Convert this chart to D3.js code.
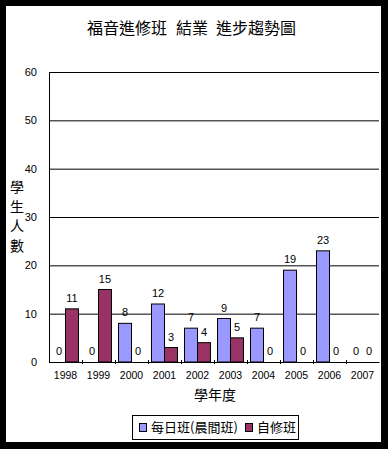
<!DOCTYPE html>
<html>
<head>
<meta charset="utf-8">
<script src="https://cdn.jsdelivr.net/npm/d3@7"></script>
<style>
  body { margin: 0; background: #000; }
  svg { display: block; }
  text { font-family: "Noto Sans CJK TC", "Liberation Sans", sans-serif; fill: #000; }
  .num { font-family: "Liberation Sans", Arial, sans-serif; }
</style>
</head>
<body>
<div id="chart"></div>
<script>
// chart data
let years = ["1998", "1999", "2000", "2001", "2002", "2003", "2004", "2005", "2006", "2007"];
let seriesNames = ["每日班(晨間班)", "自修班"];
let morningClass = [0, 0, 8, 12, 7, 9, 7, 19, 23, 0];
let selfStudy = [11, 15, 0, 3, 4, 5, 0, 0, 0, 0];
let yTicks = [0, 10, 20, 30, 40, 50, 60];
let colors = ["#9999FF", "#993366"];

let svgWidth = 388;
let svgHeight = 449;

// plot area inside the frame
let plot = { left: 49, right: 379, top: 72, bottom: 362 };

let svg = d3.select("#chart")
    .append("svg")
    .attr("width", svgWidth)
    .attr("height", svgHeight);

// black frame + white page
svg.append("rect")
    .attr("width", svgWidth)
    .attr("height", svgHeight)
    .attr("fill", "#000");
svg.append("rect")
    .attr("x", 6)
    .attr("y", 6)
    .attr("width", 375)
    .attr("height", 436)
    .attr("fill", "#fff");

// one row per year, both series
let rows = years.map((y, i) => ({
    year: y,
    values: [morningClass[i], selfStudy[i]].map((v, s) => ({ v: v, i: s }))
}));

let xScale = d3.scaleBand()
    .domain(years)
    .range([plot.left, plot.right]);

let xInner = d3.scaleBand()
    .domain([0, 1])
    .range([0, xScale.bandwidth()])
    .paddingInner(0)
    .paddingOuter(0.27);

let yScale = d3.scaleLinear()
    .domain([0, 60])
    .range([plot.bottom, plot.top]);

// gridlines + y labels
let leftAxis = d3.axisLeft(yScale)
    .tickValues(yTicks)
    .tickSize(-(plot.right - plot.left))
    .tickPadding(12)
    .tickFormat(d3.format("d"));

let yAxisG = svg.append("g")
    .attr("transform", `translate(${plot.left}, 0)`)
    .call(leftAxis);
yAxisG.select(".domain").attr("stroke", "#000");
yAxisG.selectAll(".tick line").attr("stroke", "#000");
yAxisG.selectAll(".tick text")
    .attr("class", "num")
    .attr("font-size", "11px")
    .attr("font-family", null)
    .attr("fill", "#000");

// x axis
let bottomAxis = d3.axisBottom(xScale)
    .tickSize(0)
    .tickPadding(10);

let xAxisG = svg.append("g")
    .attr("transform", `translate(0, ${plot.bottom})`)
    .call(bottomAxis);
xAxisG.select(".domain").attr("stroke", "#000");
xAxisG.selectAll(".tick text")
    .attr("class", "num")
    .attr("font-size", "10.5px")
    .attr("font-family", null)
    .attr("fill", "#000");

// small tick marks between categories
svg.append("g")
    .selectAll("line")
    .data(years.slice(1))
    .enter()
    .append("line")
    .attr("x1", d => xScale(d) + 0.5)
    .attr("x2", d => xScale(d) + 0.5)
    .attr("y1", plot.bottom - 2)
    .attr("y2", plot.bottom + 2)
    .attr("stroke", "#000");

// bars
let groups = svg.append("g")
    .selectAll("g")
    .data(rows)
    .enter()
    .append("g")
    .attr("transform", d => `translate(${xScale(d.year)}, 0)`);

groups.selectAll("rect")
    .data(d => d.values.filter(p => p.v > 0))
    .enter()
    .append("rect")
    .attr("x", d => xInner(d.i))
    .attr("y", d => yScale(d.v))
    .attr("width", xInner.bandwidth())
    .attr("height", d => yScale(0) - yScale(d.v))
    .attr("fill", d => colors[d.i])
    .attr("stroke", "#000")
    .attr("stroke-width", 1);

// value labels (zeros too)
groups.selectAll(".valueText")
    .data(d => d.values)
    .enter()
    .append("text")
    .attr("class", "num valueText")
    .attr("x", d => xInner(d.i) + xInner.bandwidth() / 2)
    .attr("y", d => yScale(d.v) - 7)
    .attr("text-anchor", "middle")
    .attr("font-size", "11px")
    .text(d => d.v);

// title
let title = svg.append("text")
    .attr("y", 34)
    .attr("font-size", "16px");
[["福音進修班", 87], ["結業", 176], ["進步趨勢圖", 216]].forEach(p => {
    title.append("tspan").attr("x", p[1]).text(p[0]);
});

// y axis title, stacked characters
svg.append("g")
    .selectAll("text")
    .data("學生人數".split(""))
    .enter()
    .append("text")
    .attr("x", 17)
    .attr("y", (d, i) => 192 + i * 19.7)
    .attr("text-anchor", "middle")
    .attr("font-size", "14px")
    .text(d => d);

// x axis title
svg.append("text")
    .attr("x", 215)
    .attr("y", 400)
    .attr("text-anchor", "middle")
    .attr("font-size", "14px")
    .text("學年度");

// legend
let legend = svg.append("g");
legend.append("rect")
    .attr("x", 132.5)
    .attr("y", 415.5)
    .attr("width", 166)
    .attr("height", 24)
    .attr("fill", "#fff")
    .attr("stroke", "#000");

let legendX = [139, 245];
seriesNames.forEach((name, i) => {
    legend.append("rect")
        .attr("x", legendX[i] + 0.5)
        .attr("y", 423.5)
        .attr("width", 7)
        .attr("height", 8)
        .attr("fill", colors[i])
        .attr("stroke", "#000");
    legend.append("text")
        .attr("x", legendX[i] + 12)
        .attr("y", 432)
        .attr("font-size", "13px")
        .text(name);
});
</script>
</body>
</html>
